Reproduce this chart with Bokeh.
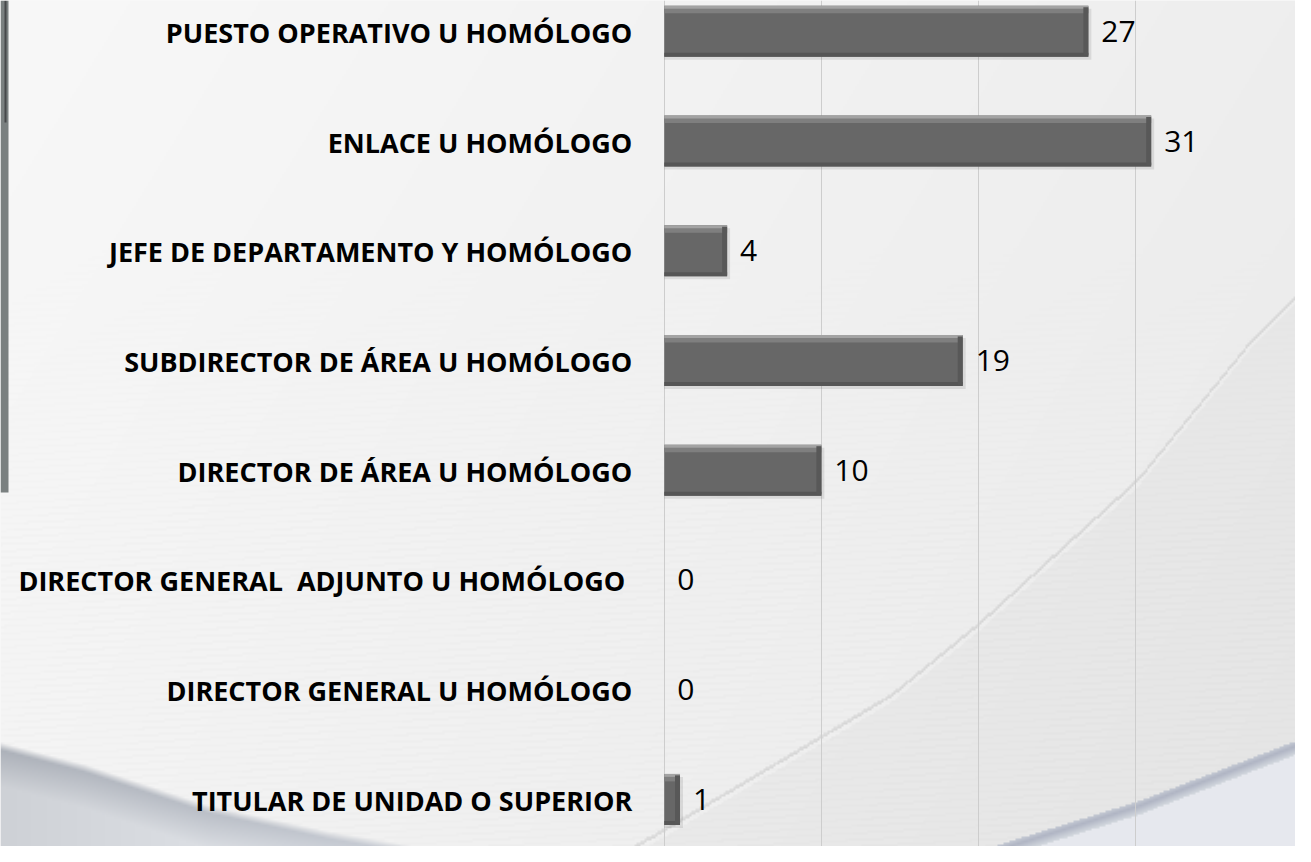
import numpy as np
from bokeh.plotting import figure
from bokeh.models import Range1d, FixedTicker, ColumnDataSource
from bokeh.core.properties import value
from bokeh.embed import file_html
from bokeh.resources import INLINE

# ---------------- data ----------------
categories = [
    "TITULAR DE UNIDAD O SUPERIOR",
    "DIRECTOR GENERAL U HOMÓLOGO",
    "DIRECTOR GENERAL \u00a0ADJUNTO U HOMÓLOGO ",
    "DIRECTOR DE ÁREA U HOMÓLOGO",
    "SUBDIRECTOR DE ÁREA U HOMÓLOGO",
    "JEFE DE DEPARTAMENTO Y HOMÓLOGO",
    "ENLACE U HOMÓLOGO",
    "PUESTO OPERATIVO U HOMÓLOGO",
]
values = [1, 0, 0, 10, 19, 4, 31, 27]
grid_ticks = [0, 10, 20, 30]

# ---------------- layout ----------------
W, H = 1295, 846
SX, SY = W / 1311, H / 862          # reference-pixel -> figure-pixel
PX_PER_X = 15.9 * SX
X0_PX = 672 * SX
PX_PER_ROW = 111.8 * SY
ROW0_PX = 814 * SY
BAR_H = 0.465
PY = 1.0 / PX_PER_ROW
PXU = 1.0 / PX_PER_X

x_start = -X0_PX / PX_PER_X
x_end = (W - X0_PX) / PX_PER_X
y_end = ROW0_PX / PX_PER_ROW
y_start = -(H - ROW0_PX) / PX_PER_ROW

p = figure(width=W, height=H, output_backend="svg", toolbar_location=None,
           x_range=Range1d(x_start, x_end), y_range=Range1d(y_start, y_end),
           min_border=0, outline_line_color=None)
p.axis.visible = False
p.ygrid.visible = False
p.xgrid.ticker = FixedTicker(ticks=grid_ticks)
p.xgrid.grid_line_color = "#cdcdcd"
p.xgrid.grid_line_width = 1
p.background_fill_color = "#f3f3f3"
p.border_fill_color = "#f3f3f3"

# ---------------- decorative background ----------------
S = 2
h, w = H // S, W // S
fy, fx = np.mgrid[0:h, 0:w].astype(float)
u = fx * S / SX
v = fy * S / SY
img = 248 - 10 * (u / 1311) - 4 * (v / 862)
img -= 2.5 * (np.sin(v * 0.9 + u * 0.05) > 0.6) * np.clip((v - 250) / 300, 0, 1)
# swoosh curve on the right
cu = np.array([560, 640, 900, 990, 1150, 1267, 1330])
cv = np.array([900, 862, 707, 633, 487, 343, 280])
vc = np.interp(u, cu, cv)
img = np.where(v > vc, img - 5, img)
img = np.where(np.abs(v - vc) < 2.0, img - 16, img)
img = np.where((v - vc > 2) & (v - vc < 7), img + 6, img)
r = img.copy(); g = img.copy(); b = img.copy()
# bottom-left blue-grey area
bu = np.array([0, 84, 210, 330, 450, 600])
bv = np.array([755, 777, 819, 845, 866, 900])
vb = np.interp(u, bu, bv)
d = v - vb
t = np.clip(d / 45, 0, 1)
lift = 30 * np.clip(u / 450, 0, 1)
gr = 166 + 40 * t + lift
gg = 171 + 38 * t + lift
gb = 180 + 34 * t + lift
mix = np.clip(d / 8, 0, 1)
r = r * (1 - mix) + gr * mix
g = g * (1 - mix) + gg * mix
b = b * (1 - mix) + gb * mix
# bottom-right blue-grey band
ru = np.array([950, 1000, 1150, 1311, 1400])
rv = np.array([880, 862, 815, 753, 730])
vr = np.interp(u, ru, rv)
dr = v - vr
band = (dr > 0) & (dr < 14)
r = np.where(band, 176 + 4 * np.abs(dr - 5), r)
g = np.where(band, 181 + 4 * np.abs(dr - 5), g)
b = np.where(band, 196 + 3 * np.abs(dr - 5), b)
after = dr >= 14
r = np.where(after, 230, r); g = np.where(after, 232, g); b = np.where(after, 238, b)
# left edge strip
strip = (u < 7) & (v < 500)
r = np.where(strip, 122, r); g = np.where(strip, 128, g); b = np.where(strip, 128, b)
inner = (u >= 3) & (u < 6) & (v < 124)
r = np.where(inner, 70, r); g = np.where(inner, 72, g); b = np.where(inner, 74, b)

rgba = np.empty((h, w), dtype=np.uint32)
view = rgba.view(dtype=np.uint8).reshape((h, w, 4))
view[:, :, 0] = np.clip(r, 0, 255).astype(np.uint8)
view[:, :, 1] = np.clip(g, 0, 255).astype(np.uint8)
view[:, :, 2] = np.clip(b, 0, 255).astype(np.uint8)
view[:, :, 3] = 255
rgba = rgba[::-1]
p.image_rgba(image=[rgba], x=x_start, y=y_start, dw=x_end - x_start,
             dh=y_end - y_start, level="image")

# ---------------- bars ----------------
idx = list(range(len(categories)))
top = [i + BAR_H / 2 for i in idx]
src = ColumnDataSource(dict(
    y=idx, v=values, cat=categories, lab=[str(x) for x in values],
    y_sh=[i - 3 * PY for i in idx],
    v_sh=[x + 3 * PXU if x > 0 else 0 for x in values],
    y_t1=[tp - 1.5 * PY for tp in top],
    y_t2=[tp - 5 * PY for tp in top],
    y_b=[i - BAR_H / 2 + 2 * PY for i in idx],
    v_r=[max(x - 5 * PXU, 0) for x in values],
))

p.hbar(y="y_sh", left=0, right="v_sh", height=BAR_H, source=src,
       fill_color="black", fill_alpha=0.09, line_color=None)
p.hbar(y="y", left=0, right="v", height=BAR_H, source=src,
       fill_color="#676767", line_color=None)
p.hbar(y="y_t2", left=0, right="v", height=5 * PY, source=src,
       fill_color="#7f7f7f", line_color=None)
p.hbar(y="y_t1", left=0, right="v", height=3 * PY, source=src,
       fill_color="#a3a3a3", line_color=None)
p.hbar(y="y_b", left=0, right="v", height=4 * PY, source=src,
       fill_color="#565656", line_color=None)
p.hbar(y="y", left="v_r", right="v", height=BAR_H - 3 * PY, source=src,
       fill_color="#585858", line_color=None)

# value labels
p.text(x="v", y="y", text="lab", source=src, x_offset=13,
       text_baseline="middle", text_align="left",
       text_font=value("Open Sans"), text_font_size="30px", text_color="black")

# category labels
p.text(x=0, y="y", text="cat", source=src, x_offset=-32, y_offset=1,
       text_baseline="middle", text_align="right",
       text_font=value("Open Sans"), text_font_style="bold",
       text_font_size="27px", text_color="black")

open("out.html", "w").write(file_html(p, INLINE))
